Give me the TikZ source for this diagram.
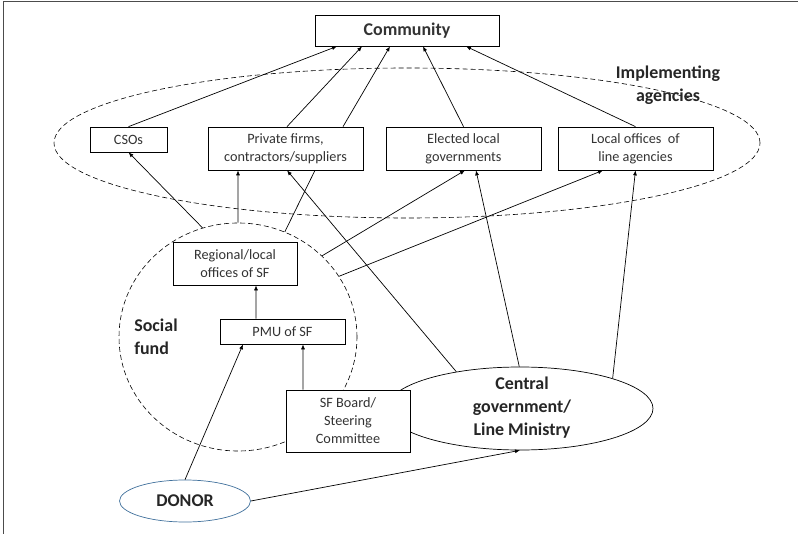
\documentclass[tikz,border=0pt]{standalone}
\usepackage{fontspec}
\setmainfont{Carlito}
\usetikzlibrary{shapes}
\usetikzlibrary{positioning}
\usetikzlibrary{arrows.meta}
\definecolor{donorblue}{RGB}{65,113,156}
\tikzset{
    box/.style = {rectangle, draw=black, line width=0.7bp, fill=white, align=center, inner sep=0pt, text=black!80, font=\fontsize{14.3}{18}\selectfont},
    ringd/.style = {ellipse, draw=black, line width=0.6bp, dash pattern=on 5bp off 3bp, inner sep=0pt},
    govnode/.style = {ellipse, draw=black, line width=0.7bp, fill=white, inner sep=0pt},
    donornode/.style = {ellipse, draw=donorblue, line width=0.7bp, fill=white, inner sep=0pt, text=black!85, font=\bfseries\fontsize{18}{22}\selectfont},
    bigtext/.style = {align=center, inner sep=0pt, text=black!85, font=\bfseries\fontsize{18}{23}\selectfont},
    frame/.style = {draw=black!70, line width=1.5bp},
    edgen/.style = {-{Latex[length=5bp,width=4bp]}, line width=0.7bp}, % arrow
    edgep/.style = {line width=0.7bp} % plain line
}

\begin{document}
\begin{tikzpicture}[x=1bp, y=-1bp]
\useasboundingbox (0,0) rectangle (798,534);
\draw[frame] (3.5,534) -- (3.5,1.5) -- (798,1.5);
%
\node[ringd, minimum width=706bp, minimum height=150bp] at (407,143) (impl) {};
\node[ringd, minimum width=238bp, minimum height=228bp] at (238,337) (sf) {};
\node[govnode, minimum width=266bp, minimum height=83bp] at (520,408.5) (cg) {};
\node[donornode, minimum width=131bp, minimum height=42bp] at (185,501) (donor) {DONOR};
%
\node[bigtext] at (668,85) (implt) {Implementing\\agencies};
\node[bigtext, align=left] at (156,337) (sft) {Social\\fund};
\node[bigtext] at (522,408) (cgt) {Central\\government/\\Line Ministry};
%
\node[box, minimum width=184bp, minimum height=31bp, font=\bfseries\fontsize{18}{22}\selectfont] at (407,30.5) (com) {Community};
\node[box, minimum width=77bp, minimum height=25bp] at (128.5,139.5) (cso) {CSOs};
\node[box, minimum width=155bp, minimum height=43bp] at (285.5,148.5) (pf) {Private firms,\\contractors/suppliers};
\node[box, minimum width=155bp, minimum height=43bp] at (463.5,148.5) (elg) {Elected local\\governments};
\node[box, minimum width=155bp, minimum height=43bp] at (635.5,148.5) (loa) {Local offices~ of\\line agencies};
\node[box, minimum width=124bp, minimum height=43bp] at (235,263.5) (reg) {Regional/local\\offices of SF};
\node[box, minimum width=125bp, minimum height=25bp] at (282.5,331.5) (pmu) {PMU of SF};
\node[box, minimum width=124bp, minimum height=62bp] at (348,421) (sfb) {SF Board/\\Steering\\Committee};
%
\draw[edgen] (cso.north) -- ([xshift=-70bp]com.south);
\draw[edgen] ([xshift=1.5bp]pf.north) -- ([xshift=-45bp]com.south);
\draw[edgen] ([xshift=57.5bp]pf.north) -- ([xshift=-17bp]com.south);
\draw[edgen] (elg.north) -- ([xshift=16bp]com.south);
\draw[edgen] (loa.north) -- ([xshift=59bp]com.south);
%
\draw[edgen] (sf.108) -- (cso.south);
\draw[edgen] (sf.90) -- ([xshift=-47.5bp]pf.south);
\draw[edgep] (sf.66) -- ([xshift=29.5bp]pf.south);
\draw[edgen] (sf.44) -- ([xshift=1.5bp]elg.south);
\draw[edgen] (sf.31) -- ([xshift=-32.5bp]loa.south);
%
\draw[edgen] (cg.150) -- ([xshift=1.5bp]pf.south);
\draw[edgen] (cg.91) -- ([xshift=12.5bp]elg.south);
\draw[edgen] (cg.18) -- (loa.south);
%
\draw[edgen] ([xshift=-26.5bp]pmu.north) -- ([xshift=21bp]reg.south);
\draw[edgen] ([xshift=-45bp]sfb.north) -- ([xshift=20.5bp]pmu.south);
\draw[edgen] (donor.north) -- ([xshift=-39.5bp]pmu.south);
\draw[edgen] (donor.east) -- (cg.south);

\end{tikzpicture}
\end{document}
